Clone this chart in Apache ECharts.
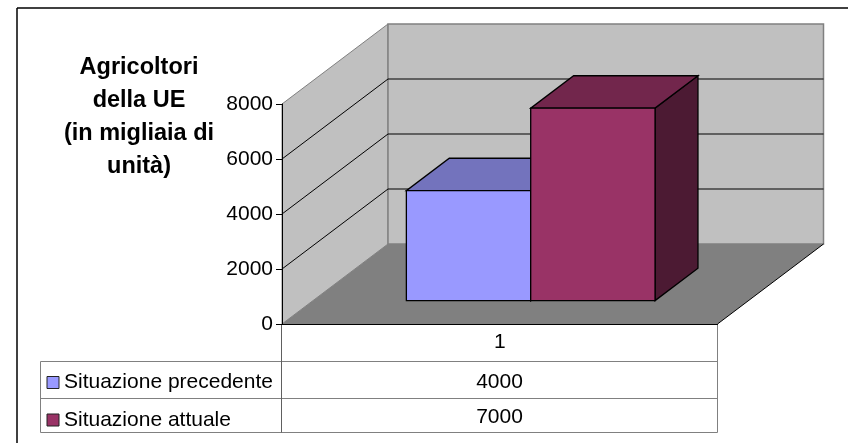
<!DOCTYPE html>
<html><head><meta charset="utf-8">
<style>html,body{margin:0;padding:0;background:#fff}#c{width:848px;height:443px}</style>
<script src="https://cdn.jsdelivr.net/npm/echarts@6/dist/echarts.min.js"></script>
</head><body><div id="c"></div>
<script>
const categories = ['1'];
const seriesNames = ['Situazione precedente', 'Situazione attuale'];
const previousValues = [4000];
const currentValues = [7000];
const yTicks = [0, 2000, 4000, 6000, 8000];
const titleLines = 'Agricoltori\ndella UE\n(in migliaia di\nunità)';

const FONT = '"Liberation Sans", Arial, sans-serif';
const DEPTH = [106, -80];          // floor depth vector in pixels
const BAR_FRONT = 0.292;           // bar front plane, share of floor depth
const BAR_DEPTH = 0.405;           // bar depth, share of floor depth
const BAR_WIDTH = 0.2855;          // bar width, share of category band
const PALETTE = [
  {front: '#9999FF', top: '#7373BD', side: '#4D4D80'},
  {front: '#993366', top: '#72264C', side: '#4C1A33'}
];

function poly(pts, fill, stroke, lw) {
  return {type: 'polygon', shape: {points: pts}, silent: true,
    style: {fill: fill, stroke: stroke || null, lineWidth: lw || 0}};
}
function seg(a, b, stroke, lw) {
  return {type: 'line', shape: {x1: a[0], y1: a[1], x2: b[0], y2: b[1]}, silent: true,
    style: {stroke: stroke, lineWidth: lw || 1, fill: null}};
}
function walls(params, api) {
  const band = api.size([1, 0])[0];
  const cx = api.coord([0, 0])[0];
  const x0 = cx - band / 2, x1 = cx + band / 2;
  const y0 = api.coord([0, yTicks[0]])[1];
  const yT = api.coord([0, yTicks[yTicks.length - 1]])[1];
  const [dx, dy] = DEPTH;
  const kids = [
    poly([[x0, yT], [x0 + dx, yT + dy], [x0 + dx, y0 + dy], [x0, y0]], '#C0C0C0', '#808080', 1),
    poly([[x0 + dx, yT + dy], [x1 + dx, yT + dy], [x1 + dx, y0 + dy], [x0 + dx, y0 + dy]], '#C0C0C0', '#808080', 1.5),
    poly([[x0, y0], [x1, y0], [x1 + dx, y0 + dy], [x0 + dx, y0 + dy]], '#808080')
  ];
  yTicks.slice(1, -1).forEach(function (t) {
    const y = api.coord([0, t])[1];
    kids.push(seg([x0, y], [x0 + dx, y + dy], '#000', 1));
    kids.push(seg([x0 + dx, y + dy], [x1 + dx, y + dy], '#000', 1));
  });
  kids.push(seg([x1, y0], [x1 + dx, y0 + dy], '#000', 1));
  return {type: 'group', children: kids};
}
function bar3d(index) {
  return function (params, api) {
    const band = api.size([1, 0])[0];
    const w = band * BAR_WIDTH;
    const base = api.coord([api.value(0), 0]);
    const top = api.coord([api.value(0), api.value(1)]);
    const ox = DEPTH[0] * BAR_FRONT, oy = DEPTH[1] * BAR_FRONT;
    const ddx = DEPTH[0] * BAR_DEPTH, ddy = DEPTH[1] * BAR_DEPTH;
    const l = base[0] + ox + (index - 1) * w, r = l + w;
    const b = base[1] + oy, t = top[1] + oy;
    const c = PALETTE[index];
    return {type: 'group', children: [
      poly([[r, b], [r + ddx, b + ddy], [r + ddx, t + ddy], [r, t]], c.side, '#000', 1.3),
      poly([[l, t], [r, t], [r + ddx, t + ddy], [l + ddx, t + ddy]], c.top, '#000', 1.3),
      poly([[l, b], [r, b], [r, t], [l, t]], c.front, '#000', 1.3)
    ]};
  };
}

const GL = 281.5, GR = 717.5, TL = 40.5, R1 = 361.5, R2 = 398.5, R3 = 432.5, TC = (GL + GR) / 2;
function hline(x1, x2, y, col, lw) {
  return {type: 'line', shape: {x1: x1, y1: y, x2: x2, y2: y}, style: {stroke: col, lineWidth: lw || 1}, silent: true};
}
function vline(x, y1, y2, col, lw) {
  return {type: 'line', shape: {x1: x, y1: y1, x2: x, y2: y2}, style: {stroke: col, lineWidth: lw || 1}, silent: true};
}
function cellText(t, y) {
  return {type: 'text', x: TC, y: y, silent: true,
    style: {text: String(t), font: '21px ' + FONT, fill: '#000', align: 'center', verticalAlign: 'middle'}};
}

const chart = echarts.init(document.getElementById('c'), null, {renderer: 'canvas'});
chart.setOption({
  animation: false,
  backgroundColor: '#fff',
  grid: {left: 282, top: 104, width: 435.5, height: 220},
  xAxis: {type: 'category', data: categories, boundaryGap: true, z: 5,
    axisLine: {lineStyle: {color: '#000', width: 1}}, axisTick: {show: false},
    axisLabel: {color: '#000', fontFamily: FONT, fontSize: 21, margin: 8}},
  yAxis: {type: 'value', min: 0, max: 8000, interval: 2000, z: 5,
    axisLine: {show: true, lineStyle: {color: '#000', width: 1}},
    axisTick: {show: true, length: 6, lineStyle: {color: '#000'}},
    axisLabel: {color: '#000', fontFamily: FONT, fontSize: 21, margin: 9, formatter: function (v) { return String(v); }},
    splitLine: {show: false}},
  legend: {data: seriesNames, orient: 'vertical', left: 46.5, top: 372, itemGap: 16.5,
    itemWidth: 12, itemHeight: 12, icon: 'rect',
    selectedMode: false,
    textStyle: {fontFamily: FONT, fontSize: 21, color: '#000', padding: [0, 0, 0, 0]},
    itemStyle: {borderColor: '#222', borderWidth: 1}, padding: 0},
  title: {text: titleLines, left: 134, top: 46, textAlign: 'center',
    textStyle: {fontFamily: FONT, fontSize: 23.5, fontWeight: 'bold', color: '#000', lineHeight: 33}},
  series: [
    {type: 'custom', name: 'walls', data: [[0, 0]], renderItem: walls, silent: true, z: 1, clip: false},
    {type: 'custom', name: seriesNames[0], data: previousValues.map((v, i) => [i, v]),
      renderItem: bar3d(0), itemStyle: {color: PALETTE[0].front}, z: 2, clip: false,
      encode: {x: 0, y: 1}},
    {type: 'custom', name: seriesNames[1], data: currentValues.map((v, i) => [i, v]),
      renderItem: bar3d(1), itemStyle: {color: PALETTE[1].front}, z: 3, clip: false,
      encode: {x: 0, y: 1}}
  ],
  graphic: [
    hline(17, 848, 8, '#000', 1.5),
    vline(17, 8, 443, '#000', 1.5),
    hline(TL, GR, R1, '#808080'), hline(TL, GR, R2, '#808080', 1.2), hline(TL, GR, R3, '#808080'),
    vline(TL, R1, R3, '#808080'), vline(GL, 324, R3, '#606060'), vline(GR, 324, R3, '#808080'),
    cellText(previousValues[0], 382), cellText(currentValues[0], 417.5)
  ]
});
</script></body></html>
